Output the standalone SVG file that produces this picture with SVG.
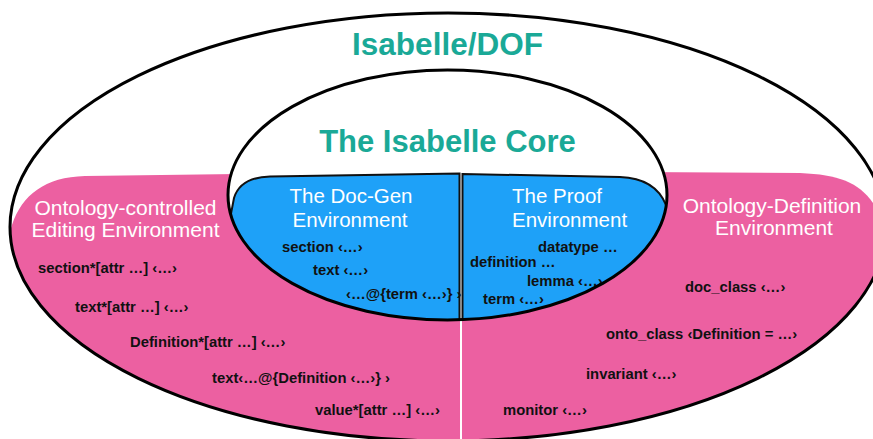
<svg xmlns="http://www.w3.org/2000/svg" width="873" height="439" viewBox="0 0 873 439">
<style>
.ttl{font-family:"Liberation Sans",Arial,sans-serif;font-weight:bold;fill:#1aa997;text-anchor:middle}
.hd{font-family:"Liberation Sans",Arial,sans-serif;font-size:21px;fill:#ffffff}
.hb{font-family:"Liberation Sans",Arial,sans-serif;font-size:20.5px;fill:#ffffff}
.cd{font-family:"Liberation Sans",Arial,sans-serif;font-size:14.8px;font-weight:bold;fill:#111111}
.pink{fill:#ec60a1}
.blue{fill:#1ea1f8;stroke:#111111;stroke-width:2}
.ring{fill:none;stroke:#000000;stroke-width:3}
</style>
<defs>
<clipPath id="outerClip"><ellipse cx="448" cy="227" rx="438" ry="214"/></clipPath>
<clipPath id="innerClip"><ellipse cx="447.5" cy="195" rx="219.5" ry="125"/></clipPath>
</defs>
<rect x="0" y="0" width="873" height="439" fill="#ffffff"/>
<g id="editing-environment">
<path class="pink" clip-path="url(#outerClip)" d="M460,171 L85,176 C45,177 22,195 12,225 L0,260 L0,445 L460,445 Z"/>
<text class="hd" x="125.5" y="215" text-anchor="middle">Ontology-controlled</text>
<text class="hd" x="125.5" y="237" text-anchor="middle">Editing Environment</text>
<text class="cd" x="38" y="273">section*[attr …] ‹…›</text>
<text class="cd" x="75" y="312">text*[attr …] ‹…›</text>
<text class="cd" x="130" y="347">Definition*[attr …] ‹…›</text>
<text class="cd" x="212" y="383">text‹…@{Definition ‹…›} ›</text>
<text class="cd" x="315" y="415">value*[attr …] ‹…›</text>
</g>
<g id="definition-environment">
<path class="pink" clip-path="url(#outerClip)" d="M462,171 L800,173 C845,175 865,185 880,215 L880,445 L462,445 Z"/>
<text class="hd" x="772" y="213" text-anchor="middle">Ontology-Definition</text>
<text class="hd" x="774" y="235" text-anchor="middle">Environment</text>
<text class="cd" x="685" y="292">doc_class ‹…›</text>
<text class="cd" x="606" y="339">onto_class ‹Definition = …›</text>
<text class="cd" x="586" y="379">invariant ‹…›</text>
<text class="cd" x="503" y="415">monitor ‹…›</text>
</g>
<g id="isabelle-core">
<ellipse cx="447.5" cy="195" rx="219.5" ry="125" fill="#ffffff"/>
<text class="ttl" x="447.5" y="151.5" font-size="31">The Isabelle Core</text>
</g>
<g id="docgen-environment">
<path class="blue" clip-path="url(#innerClip)" d="M459.5,173.5 L270,176.5 C250,177 238,185 234,198 L224,250 L224,330 L459.5,330 Z"/>
<text class="hb" x="351" y="203" text-anchor="middle">The Doc-Gen</text>
<text class="hb" x="350" y="227" text-anchor="middle">Environment</text>
<text class="cd" x="282" y="252">section ‹…›</text>
<text class="cd" x="313" y="275">text ‹…›</text>
<text class="cd" x="346" y="299">‹…@{term ‹…›} ›</text>
</g>
<g id="proof-environment">
<path class="blue" clip-path="url(#innerClip)" d="M462.5,174 L620,177 C648,178 660,190 666,205 L672,250 L672,330 L462.5,330 Z"/>
<text class="hb" x="512" y="203">The Proof</text>
<text class="hb" x="512" y="227">Environment</text>
<text class="cd" x="538" y="252">datatype …</text>
<text class="cd" x="470" y="267">definition …</text>
<text class="cd" x="527" y="286">lemma ‹…›</text>
<text class="cd" x="483" y="304">term ‹…›</text>
</g>
<g id="isabelle-core-outline">
<ellipse class="ring" cx="447.5" cy="195" rx="219.5" ry="125"/>
</g>
<g id="isabelle-dof">
<ellipse class="ring" cx="448" cy="227" rx="438" ry="214"/>
<text class="ttl" x="447.5" y="55" font-size="31.5">Isabelle/DOF</text>
</g>
<g id="connectors"/>
</svg>
